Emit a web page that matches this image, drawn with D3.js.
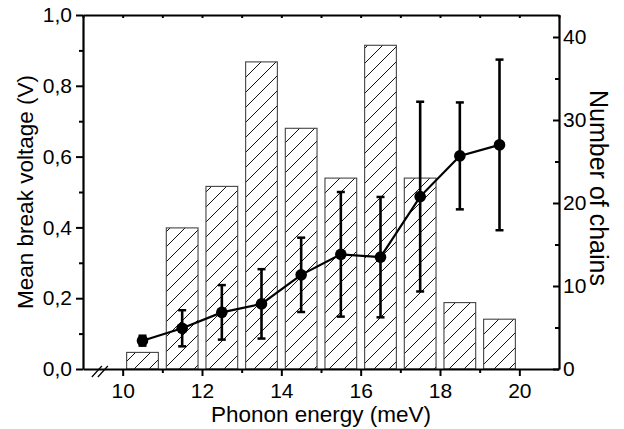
<!DOCTYPE html>
<html>
<head>
<meta charset="utf-8">
<script src="https://cdn.jsdelivr.net/npm/d3@7"></script>
<style>
    body { margin: 0; background: #fff; }
    text { font-family: "Liberation Sans", Arial, sans-serif; }
</style>
</head>
<body>
<div id="chart"></div>
<script>
//Data
var binCenters = [10.5, 11.5, 12.5, 13.5, 14.5, 15.5, 16.5, 17.5, 18.5, 19.5];
var chainCounts = [2, 17, 22, 37, 29, 23, 39, 23, 8, 6];
var meanVoltage = [0.08, 0.115, 0.16, 0.184, 0.266, 0.324, 0.316, 0.487, 0.602, 0.633];
var voltageError = [0.014, 0.051, 0.077, 0.098, 0.105, 0.176, 0.17, 0.268, 0.151, 0.241];

var xTicks = [10, 12, 14, 16, 18, 20];
var xMinorTicks = [11, 13, 15, 17, 19];
var yTicks = [0, 0.2, 0.4, 0.6, 0.8, 1.0];
var yMinorTicks = [0.1, 0.3, 0.5, 0.7, 0.9];
var y2Ticks = [0, 10, 20, 30, 40];
var y2MinorTicks = [5, 15, 25, 35];

var margin = { top: 15, right: 65, bottom: 60, left: 83 };
var width = 624 - margin.left - margin.right;
var height = 429 - margin.top - margin.bottom;

var tickFont = 21;
var titleFont = 22.5;

var svg = d3
    .select("#chart")
    .append("svg")
    .attr("width", 624)
    .attr("height", 429)
    .append("g")
    .attr("transform", `translate(${margin.left},${margin.top})`);

// Scales
var x = d3.scaleLinear().domain([9, 21]).range([0, width]);
var y = d3.scaleLinear().domain([0, 1]).range([height, 0]);
var y2 = d3.scaleLinear().domain([0, 42.65]).range([height, 0]);

//Hatch pattern for the bars
var defs = svg.append("defs");
var pattern = defs
    .append("pattern")
    .attr("id", "hatch")
    .attr("patternUnits", "userSpaceOnUse")
    .attr("width", 15)
    .attr("height", 15);
pattern.append("rect").attr("width", 15).attr("height", 15).attr("fill", "white");
pattern
    .append("path")
    .attr("d", "M-3,3 L3,-3 M0,15 L15,0 M12,18 L18,12")
    .attr("stroke", "#111")
    .attr("stroke-width", 1);

//Bars (right axis)
var barWidth = x(9.8) - x(9);
svg.selectAll("rect.bar")
    .data(binCenters)
    .enter()
    .append("rect")
    .attr("class", "bar")
    .attr("x", function (d) {
        return x(d) - barWidth / 2;
    })
    .attr("y", function (d, i) {
        return y2(chainCounts[i]);
    })
    .attr("width", barWidth)
    .attr("height", function (d, i) {
        return height - y2(chainCounts[i]);
    })
    .attr("fill", "url(#hatch)")
    .attr("stroke", "#444")
    .attr("stroke-width", 1.1);

//Line through the means
var line = d3
    .line()
    .x(function (d) {
        return x(d);
    })
    .y(function (d, i) {
        return y(meanVoltage[i]);
    });
svg.append("path")
    .datum(binCenters)
    .attr("d", line)
    .attr("fill", "none")
    .attr("stroke", "black")
    .attr("stroke-width", 2.2);

//Error bars
var errs = svg.selectAll("g.err").data(binCenters).enter().append("g");
errs.append("line")
    .attr("x1", function (d) { return x(d); })
    .attr("x2", function (d) { return x(d); })
    .attr("y1", function (d, i) { return y(meanVoltage[i] + voltageError[i]); })
    .attr("y2", function (d, i) { return y(meanVoltage[i] - voltageError[i]); })
    .attr("stroke", "black")
    .attr("stroke-width", 2.6);
[1, -1].forEach(function (s) {
    errs.append("line")
        .attr("x1", function (d) { return x(d) - 4; })
        .attr("x2", function (d) { return x(d) + 4; })
        .attr("y1", function (d, i) { return y(meanVoltage[i] + s * voltageError[i]); })
        .attr("y2", function (d, i) { return y(meanVoltage[i] + s * voltageError[i]); })
        .attr("stroke", "black")
        .attr("stroke-width", 2.5);
});

//Markers
svg.selectAll("circle.pt")
    .data(binCenters)
    .enter()
    .append("circle")
    .attr("cx", function (d) { return x(d); })
    .attr("cy", function (d, i) { return y(meanVoltage[i]); })
    .attr("r", 5.8)
    .attr("fill", "black");

//Axes
function styleAxis(g) {
    g.select(".domain").attr("stroke-width", 2.2);
    g.selectAll(".tick line").attr("stroke-width", 2);
    g.selectAll(".tick text").attr("font-size", tickFont).attr("fill", "black");
    g.attr("font-family", null);
}

var xAxis = svg
    .append("g")
    .attr("transform", `translate(0,${height})`)
    .call(d3.axisBottom(x).tickValues(xTicks).tickSize(7).tickPadding(7).tickSizeOuter(0))
    .call(styleAxis);
svg.append("g")
    .attr("transform", `translate(0,${height})`)
    .call(d3.axisBottom(x).tickValues(xMinorTicks).tickSize(4).tickFormat("").tickSizeOuter(0))
    .call(styleAxis)
    .select(".domain").remove();

var yAxis = svg
    .append("g")
    .call(d3.axisLeft(y).tickValues(yTicks).tickSize(7).tickPadding(4).tickSizeOuter(0)
        .tickFormat(function (d) { return d3.format(".1f")(d).replace(".", ","); }))
    .call(styleAxis);
svg.append("g")
    .call(d3.axisLeft(y).tickValues(yMinorTicks).tickSize(4).tickFormat("").tickSizeOuter(0))
    .call(styleAxis)
    .select(".domain").remove();

var y2Axis = svg
    .append("g")
    .attr("transform", `translate(${width},0)`)
    .call(d3.axisRight(y2).tickValues(y2Ticks).tickSize(-6).tickPadding(4).tickSizeOuter(0))
    .call(styleAxis);
svg.append("g")
    .attr("transform", `translate(${width},0)`)
    .call(d3.axisRight(y2).tickValues(y2MinorTicks).tickSize(-4).tickFormat("").tickSizeOuter(0))
    .call(styleAxis)
    .select(".domain").remove();

//Top frame with small ticks
svg.append("g")
    .call(d3.axisTop(x).ticks(12).tickSize(-3).tickFormat("").tickSizeOuter(0))
    .call(styleAxis);

//Axis break marks
[-4, 2].forEach(function (dx) {
    svg.append("line")
        .attr("x1", x(9.45) + dx - 5)
        .attr("y1", height + 8)
        .attr("x2", x(9.45) + dx + 5)
        .attr("y2", height - 3)
        .attr("stroke", "black")
        .attr("stroke-width", 1.2);
});

//Axis titles
svg.append("text")
    .attr("x", width / 2)
    .attr("y", 422 - margin.top)
    .attr("text-anchor", "middle")
    .attr("font-size", titleFont)
    .text("Phonon energy (meV)");

svg.append("text")
    .attr("transform", `translate(${33 - margin.left},${height / 2}) rotate(-90)`)
    .attr("text-anchor", "middle")
    .attr("font-size", titleFont)
    .text("Mean break voltage (V)");

svg.append("text")
    .attr("transform", `translate(${590 - margin.left},${188 - margin.top}) rotate(90)`)
    .attr("text-anchor", "middle")
    .attr("font-size", 25)
    .text("Number of chains");
</script>
</body>
</html>
